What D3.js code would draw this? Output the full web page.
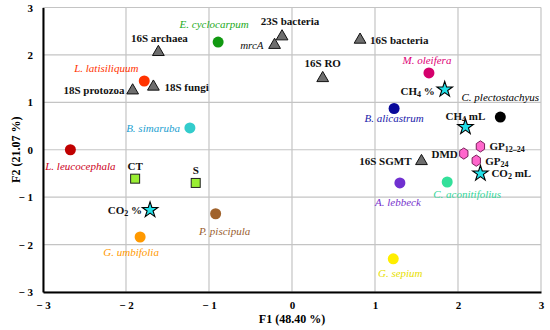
<!DOCTYPE html>
<html>
<head>
<meta charset="utf-8">
<script src="https://cdn.jsdelivr.net/npm/d3@7"></script>
<style>
  body { margin: 0; background: #fff; }
  svg text { font-family: 'Liberation Serif', 'Times New Roman', serif !important; }
</style>
</head>
<body>
<div id="chart"></div>
<script>
// species (circles)
const species = ["L. leucocephala", "L. latisiliquum", "E. cyclocarpum", "B. simaruba", "M. oleifera",
  "B. alicastrum", "C. plectostachyus", "A. lebbeck", "C. aconitifolius", "G. sepium", "P. piscipula", "G. umbifolia"];
const speciesF1 = [-2.67, -1.78, -0.89, -1.23, 1.65, 1.23, 2.51, 1.30, 1.87, 1.22, -0.92, -1.83];
const speciesF2 = [0.00, 1.45, 2.27, 0.46, 1.62, 0.87, 0.69, -0.70, -0.68, -2.30, -1.35, -1.84];

// genes (triangles)
const genes = ["16S archaea", "18S fungi", "18S protozoa", "23S bacteria", "mrcA", "16S bacteria", "16S RO", "16S SGMT"];
const genesF1 = [-1.61, -1.67, -1.92, -0.12, -0.21, 0.82, 0.37, 1.56];
const genesF2 = [2.08, 1.35, 1.27, 2.41, 2.23, 2.34, 1.53, -0.22];

// gases (stars)
const gases = ["CH4 %", "CH4 mL", "CO2 mL", "CO2 %"];
const gasesF1 = [1.84, 2.09, 2.27, -1.71];
const gasesF2 = [1.27, 0.48, -0.50, -1.27];

// fermentation (hexagons)
const ferment = ["GP12-24", "DMD", "GP24"];
const fermentF1 = [2.27, 2.07, 2.22];
const fermentF2 = [0.07, -0.08, -0.23];

// treatments (squares)
const treat = ["CT", "S"];
const treatF1 = [-1.89, -1.16];
const treatF2 = [-0.61, -0.70];

const ticks = [-3, -2, -1, 0, 1, 2, 3];

// colours and label placement
const speciesFill = ["#c00000", "#ff3300", "#119911", "#33cccc", "#d4006c", "#0a0a9a", "#000000",
  "#7030d0", "#33e09a", "#ffee00", "#a0622c", "#ff9900"];
const speciesText = ["#cc0022", "#ff3300", "#22aa22", "#22a0d0", "#dd0077", "#1a1aaa", "#000000",
  "#7733cc", "#33d699", "#e8e000", "#9a6030", "#ff9900"];
const labelPos = {
  "L. leucocephala": [10, 20, "middle"], "L. latisiliquum": [-38, -9, "middle"],
  "E. cyclocarpum": [-4, -14, "middle"], "B. simaruba": [-10, 4, "end"],
  "M. oleifera": [-2, -9, "middle"], "B. alicastrum": [0, 14, "middle"],
  "C. plectostachyus": [0, -16, "middle"], "A. lebbeck": [-2, 23, "middle"],
  "C. aconitifolius": [20, 16, "middle"], "G. sepium": [7, 18, "middle"],
  "P. piscipula": [9, 21, "middle"], "G. umbifolia": [-9, 19, "middle"],
  "16S archaea": [1, -9, "middle"], "18S fungi": [11, 5, "start"], "18S protozoa": [-8, 4, "end"],
  "23S bacteria": [8, -10, "middle"], "mrcA": [-11, 5, "end"], "16S bacteria": [10, 5, "start"],
  "16S RO": [0, -10, "middle"], "16S SGMT": [-10, 5, "end"],
  "CH4 %": [-10, 5, "end"], "CH4 mL": [0, -7, "middle"], "CO2 mL": [11, 4, "start"], "CO2 %": [-8, 4, "end"],
  "GP12-24": [9, 4, "start"], "DMD": [-6, 4, "end"], "GP24": [9, 4, "start"],
  "CT": [0, -9, "middle"], "S": [0, -9, "middle"]
};

const width = 550, height = 330;
const margin = { top: 7.5, right: 9, bottom: 38, left: 43 };
const serif = "'Liberation Serif', 'Times New Roman', serif";

const svg = d3.select("#chart").append("svg")
  .attr("width", width).attr("height", height)
  .attr("font-family", serif);

const x = d3.scaleLinear().domain([-3, 3]).range([margin.left, width - margin.right]);
const y = d3.scaleLinear().domain([-3, 3]).range([height - margin.bottom, margin.top]);

const fmt = d => d < 0 ? "\u2212 " + (-d) : String(d);

// grid
svg.append("g").selectAll("line").data(ticks).join("line")
  .attr("x1", d => x(d)).attr("x2", d => x(d))
  .attr("y1", y(-3)).attr("y2", y(3))
  .attr("stroke", "#c4c4c4").attr("stroke-width", 1.2);
svg.append("g").selectAll("line").data(ticks).join("line")
  .attr("y1", d => y(d)).attr("y2", d => y(d))
  .attr("x1", x(-3)).attr("x2", x(3))
  .attr("stroke", "#c4c4c4").attr("stroke-width", 1.2);

// axes
svg.append("g")
  .attr("transform", `translate(0,${y(-3)})`)
  .call(d3.axisBottom(x).tickValues(ticks).tickFormat(fmt).tickSize(0).tickPadding(9))
  .attr("font-family", serif)
  .call(g => g.select(".domain").attr("stroke", "#000").attr("stroke-width", 2))
  .call(g => g.selectAll("text").attr("font-size", "11px").attr("font-weight", "bold"));
svg.append("g")
  .attr("transform", `translate(${x(-3)},0)`)
  .call(d3.axisLeft(y).tickValues(ticks).tickFormat(fmt).tickSize(0).tickPadding(10))
  .attr("font-family", serif)
  .call(g => g.select(".domain").attr("stroke", "#000").attr("stroke-width", 2))
  .call(g => g.selectAll("text").attr("font-size", "11px").attr("font-weight", "bold"));

// axis titles
svg.append("text")
  .attr("x", x(0)).attr("y", 323)
  .attr("text-anchor", "middle").attr("font-size", "12px").attr("font-weight", "bold")
  .text("F1  (48.40 %)");
svg.append("text")
  .attr("transform", `translate(20,${y(0)}) rotate(-90)`)
  .attr("text-anchor", "middle").attr("font-size", "12px").attr("font-weight", "bold")
  .text("F2  (21.07 %)");

// label helper with subscripts
function addLabel(name, px, py, color, italic) {
  const [dx, dy, anchor] = labelPos[name];
  const t = svg.append("text")
    .attr("x", px + dx).attr("y", py + dy)
    .attr("text-anchor", anchor)
    .attr("font-size", "11px")
    .attr("fill", color)
    .attr("font-style", italic ? "italic" : "normal")
    .attr("font-weight", italic ? "normal" : "bold");
  const m = name.match(/^(CH|CO)(\d)(.*)$/) || name.match(/^(GP)([\d-]+)()$/);
  if (m) {
    t.append("tspan").text(m[1]);
    t.append("tspan").attr("font-size", "8px").attr("baseline-shift", "-25%")
      .text(m[2].replace("-", "\u2013"));
    if (m[3]) t.append("tspan").text(m[3]);
  } else {
    t.text(name);
  }
}

// species circles
species.forEach((s, i) => {
  svg.append("circle")
    .attr("cx", x(speciesF1[i])).attr("cy", y(speciesF2[i])).attr("r", 5.5)
    .attr("fill", speciesFill[i]);
  addLabel(s, x(speciesF1[i]), y(speciesF2[i]), speciesText[i], true);
});

// gene triangles
const tri = d3.symbol().type(d3.symbolTriangle).size(60);
genes.forEach((g, i) => {
  svg.append("path").attr("d", tri())
    .attr("transform", `translate(${x(genesF1[i])},${y(genesF2[i]) + 1})`)
    .attr("fill", "#6e6e6e").attr("stroke", "#111").attr("stroke-width", 1);
  addLabel(g, x(genesF1[i]), y(genesF2[i]), "#111", g === "mrcA");
});

// gas stars
const star = d3.symbol().type(d3.symbolStar).size(75);
gases.forEach((g, i) => {
  svg.append("path").attr("d", star())
    .attr("transform", `translate(${x(gasesF1[i])},${y(gasesF2[i])})`)
    .attr("fill", "#22e0e8").attr("stroke", "#000").attr("stroke-width", 1.1);
  addLabel(g, x(gasesF1[i]), y(gasesF2[i]), "#111", false);
});

// fermentation hexagons
const hex = d3.line()(d3.range(6).map(k => {
  const a = Math.PI / 3 * k;
  return [4.8 * Math.sin(a), 5.6 * Math.cos(a)];
})) + "Z";
ferment.forEach((f, i) => {
  svg.append("path").attr("d", hex)
    .attr("transform", `translate(${x(fermentF1[i])},${y(fermentF2[i])})`)
    .attr("fill", "#ff66cc").attr("stroke", "#7a1f5a").attr("stroke-width", 1);
  addLabel(f, x(fermentF1[i]), y(fermentF2[i]), "#111", false);
});

// treatment squares
treat.forEach((t, i) => {
  svg.append("rect")
    .attr("x", x(treatF1[i]) - 4.5).attr("y", y(treatF2[i]) - 4.5)
    .attr("width", 9).attr("height", 9)
    .attr("fill", "#99ee33").attr("stroke", "#222").attr("stroke-width", 1);
  addLabel(t, x(treatF1[i]), y(treatF2[i]), "#111", false);
});
</script>
</body>
</html>
